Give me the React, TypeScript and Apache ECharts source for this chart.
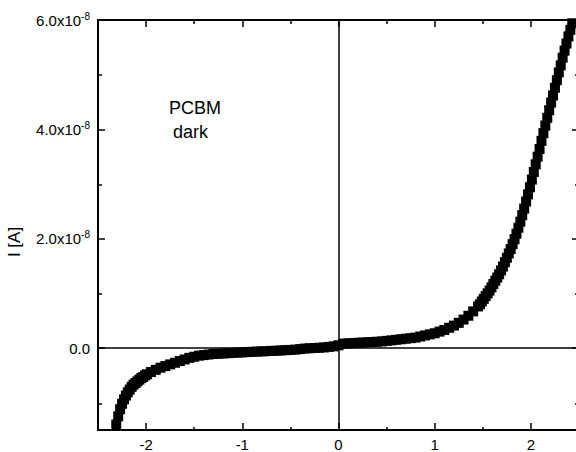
import React, { useEffect, useRef } from "react";
import * as echarts from "echarts";

// Bias voltage (V)
const voltage: number[] = [
  -2.31, -2.29, -2.27, -2.25, -2.23, -2.21, -2.19, -2.17, -2.15, -2.13, -2.11, -2.09, -2.07, -2.05, -2.03, -2.01, -1.99,
  -1.95, -1.9, -1.85, -1.8, -1.75, -1.7, -1.65, -1.6, -1.55, -1.5, -1.45, -1.4, -1.35, -1.3, -1.25, -1.2, -1.15, -1.1,
  -1.05, -1.0, -0.95, -0.9, -0.85, -0.8, -0.75, -0.7, -0.65, -0.6, -0.55, -0.5, -0.45, -0.4, -0.35, -0.3, -0.25, -0.2,
  -0.15, -0.1, -0.05, 0.0, 0.05, 0.1, 0.15, 0.2, 0.25, 0.3, 0.35, 0.4, 0.45, 0.5, 0.55, 0.6, 0.65, 0.7, 0.75, 0.8,
  0.85, 0.9, 0.95, 1.0, 1.05, 1.1, 1.15, 1.2, 1.25, 1.3, 1.35, 1.4, 1.45,
  1.47, 1.49, 1.51, 1.53, 1.55, 1.57, 1.59, 1.61, 1.63, 1.65, 1.67, 1.69, 1.71, 1.73, 1.75, 1.77, 1.79, 1.81, 1.83,
  1.85, 1.87, 1.89, 1.91, 1.93, 1.95, 1.97, 1.99, 2.01, 2.03, 2.05, 2.07, 2.09, 2.11, 2.13, 2.15, 2.17, 2.19, 2.21,
  2.23, 2.25, 2.27, 2.29, 2.31, 2.33, 2.35, 2.37, 2.39, 2.41, 2.43,
];

// Current in units of 1e-8 A
const current: number[] = [
  -1.4, -1.25, -1.12, -1.02, -0.94, -0.87, -0.81, -0.76, -0.71, -0.67, -0.64, -0.61, -0.58, -0.55, -0.53, -0.5, -0.48,
  -0.44, -0.4, -0.36, -0.33, -0.3, -0.27, -0.24, -0.21, -0.18, -0.16, -0.14, -0.13, -0.12, -0.11, -0.105, -0.1, -0.095,
  -0.09, -0.085, -0.08, -0.075, -0.07, -0.066, -0.062, -0.058, -0.054, -0.05, -0.045, -0.04, -0.035, -0.03, -0.02,
  -0.01, -0.005, 0.0, 0.005, 0.01, 0.02, 0.03, 0.05, 0.08, 0.085, 0.09, 0.095, 0.1, 0.105, 0.11, 0.115, 0.12, 0.13,
  0.14, 0.15, 0.16, 0.17, 0.18, 0.19, 0.21, 0.23, 0.25, 0.27, 0.3, 0.33, 0.37, 0.41, 0.46, 0.52, 0.59, 0.67, 0.76,
  0.8, 0.85, 0.9, 0.95, 1.0, 1.05, 1.11, 1.17, 1.23, 1.29, 1.35, 1.42, 1.49, 1.57, 1.65, 1.73, 1.81, 1.9, 1.99,
  2.09, 2.2, 2.31, 2.43, 2.55, 2.68, 2.81, 2.94, 3.08, 3.22, 3.36, 3.5, 3.64, 3.79, 3.93, 4.07, 4.21, 4.35, 4.49,
  4.62, 4.76, 4.9, 5.04, 5.17, 5.31, 5.44, 5.57, 5.7, 5.82, 5.94,
];

const xMajorTicks = [-2, -1, 0, 1, 2];
const xMinorTicks = [-1.5, -0.5, 0.5, 1.5];
const yMajorTicks = [0, 2, 4, 6];
const yMinorTicks = [-1, 1, 3, 5];
const X_RANGE = [-2.5, 2.5];
const Y_RANGE = [-1.5, 6];

const FONT = "'Liberation Sans', Arial, Helvetica, sans-serif";

export default function App() {
  const ref = useRef<HTMLDivElement>(null);

  useEffect(() => {
    if (!ref.current) return;
    const chart = echarts.init(ref.current, undefined, { renderer: "svg" });

    const xBase = { type: "value" as const, min: X_RANGE[0], max: X_RANGE[1], splitLine: { show: false } };
    const yBase = { type: "value" as const, min: Y_RANGE[0], max: Y_RANGE[1], splitLine: { show: false } };
    const noLine = { show: false, onZero: false };
    const frameLine = { show: true, onZero: false, lineStyle: { color: "#000", width: 2 } };
    const tickStyle = { color: "#000", width: 1.5 };
    const gridPos = { left: 98, right: 5, top: 20, bottom: 21, containLabel: false };

    const xAxes = [
      {
        ...xBase,
        gridIndex: 0,
        position: "bottom",
        axisLine: frameLine,
        axisTick: { show: true, inside: true, length: 7, customValues: xMajorTicks, lineStyle: tickStyle },
        axisLabel: {
          show: true,
          customValues: xMajorTicks,
          margin: 7,
          color: "#000",
          fontSize: 15,
          fontFamily: FONT,
          formatter: (v: number) => String(Math.round(v)),
        },
      },
      {
        ...xBase,
        gridIndex: 0,
        position: "top",
        axisLine: frameLine,
        axisTick: { show: true, inside: true, length: 7, customValues: xMajorTicks, lineStyle: tickStyle },
        axisLabel: { show: false },
      },
      {
        ...xBase,
        gridIndex: 1,
        position: "bottom",
        axisLine: noLine,
        axisTick: { show: true, inside: true, length: 4, customValues: xMinorTicks, lineStyle: tickStyle },
        axisLabel: { show: false },
      },
      {
        ...xBase,
        gridIndex: 1,
        position: "top",
        axisLine: noLine,
        axisTick: { show: true, inside: true, length: 4, customValues: xMinorTicks, lineStyle: tickStyle },
        axisLabel: { show: false },
      },
    ];

    const yAxes = [
      {
        ...yBase,
        gridIndex: 0,
        position: "left",
        axisLine: frameLine,
        axisTick: { show: true, inside: true, length: 7, customValues: yMajorTicks, lineStyle: tickStyle },
        axisLabel: {
          show: true,
          customValues: yMajorTicks,
          margin: 8,
          formatter: (v: number) => (v === 0 ? "{a|0.0}" : `{a|${v.toFixed(1)}x10}{b|-8}`),
          rich: {
            a: { fontSize: 15, fontFamily: FONT, color: "#000", lineHeight: 18 },
            b: { fontSize: 10, fontFamily: FONT, color: "#000", lineHeight: 10, verticalAlign: "top" },
          },
        },
      },
      {
        ...yBase,
        gridIndex: 0,
        position: "right",
        axisLine: frameLine,
        axisTick: { show: true, inside: true, length: 7, customValues: yMajorTicks, lineStyle: tickStyle },
        axisLabel: { show: false },
      },
      {
        ...yBase,
        gridIndex: 1,
        position: "left",
        axisLine: noLine,
        axisTick: { show: true, inside: true, length: 4, customValues: yMinorTicks, lineStyle: tickStyle },
        axisLabel: { show: false },
      },
      {
        ...yBase,
        gridIndex: 1,
        position: "right",
        axisLine: noLine,
        axisTick: { show: true, inside: true, length: 4, customValues: yMinorTicks, lineStyle: tickStyle },
        axisLabel: { show: false },
      },
    ];

    const points = voltage.map((v, i) => [v, current[i]]);

    chart.setOption({
      animation: false,
      grid: [
        { ...gridPos, show: false },
        { ...gridPos, show: false },
      ],
      xAxis: xAxes,
      yAxis: yAxes,
      graphic: [
        {
          id: "ylabel",
          type: "text",
          x: 14,
          y: 242,
          rotation: Math.PI / 2,
          style: { text: "I [A]", font: `17px ${FONT}`, fill: "#000", textAlign: "center", textVerticalAlign: "middle" },
        },
        {
          id: "t1",
          type: "text",
          x: 169,
          y: 108,
          style: { text: "PCBM", font: `18px ${FONT}`, fill: "#000", textAlign: "left", textVerticalAlign: "middle" },
        },
        {
          id: "t2",
          type: "text",
          x: 173,
          y: 132,
          style: { text: "dark", font: `18px ${FONT}`, fill: "#000", textAlign: "left", textVerticalAlign: "middle" },
        },
      ],
      series: [
        {
          type: "scatter",
          xAxisIndex: 0,
          yAxisIndex: 0,
          data: points,
          symbol: "rect",
          symbolSize: 10,
          itemStyle: { color: "#000", opacity: 1 },
          silent: true,
          markLine: {
            silent: true,
            symbol: ["none", "none"],
            label: { show: false },
            lineStyle: { color: "#000", width: 1.5, type: "solid", opacity: 1 },
            data: [{ xAxis: 0 }, { yAxis: 0 }],
          },
        },
      ],
    });

    // Plot frame edges as thin filled bars, placed from the axes' own scale
    const p0 = chart.convertToPixel({ xAxisIndex: 0, yAxisIndex: 0 }, [X_RANGE[0], Y_RANGE[1]]) as number[];
    const p1 = chart.convertToPixel({ xAxisIndex: 0, yAxisIndex: 0 }, [X_RANGE[1], Y_RANGE[0]]) as number[];
    if (p0 && p1) {
      const l = Math.round(p0[0]);
      const t = Math.round(p0[1]);
      const r = Math.round(p1[0]);
      const b = Math.round(p1[1]);
      const fill = { fill: "#000" };
      chart.setOption({
        graphic: [
          { id: "fl", type: "rect", z: 100, silent: true, shape: { x: l - 1, y: t - 1, width: 2, height: b - t + 2 }, style: fill },
          { id: "ft", type: "rect", z: 100, silent: true, shape: { x: l - 1, y: t - 1, width: r - l + 2, height: 2 }, style: fill },
          { id: "fb", type: "rect", z: 100, silent: true, shape: { x: l - 1, y: b - 1, width: r - l + 2, height: 2 }, style: fill },
          { id: "fr", type: "rect", z: 100, silent: true, shape: { x: r - 1, y: t - 1, width: 2, height: b - t + 2 }, style: fill },
        ],
      });
    }

    return () => chart.dispose();
  }, []);

  return (
    <div style={{ position: "absolute", left: 0, top: 0, width: 576, height: 452, overflow: "hidden", background: "#fff" }}>
      <div ref={ref} style={{ width: 584, height: 452 }} />
    </div>
  );
}
